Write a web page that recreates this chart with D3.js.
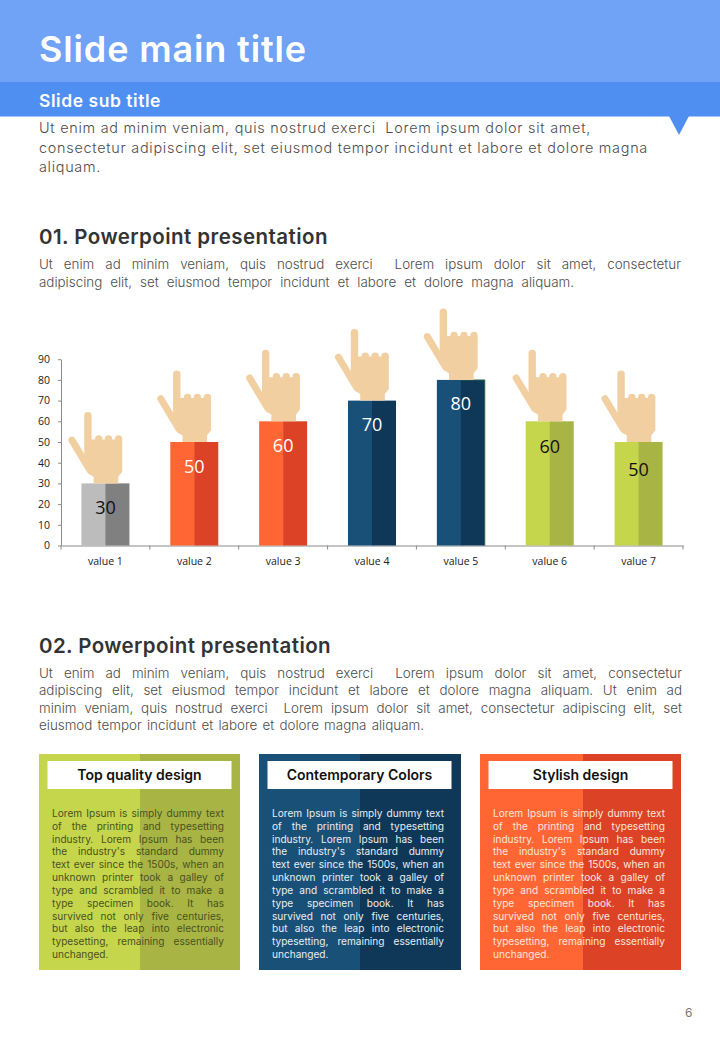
<!DOCTYPE html>
<html><head><meta charset="utf-8">
<script src="https://cdn.jsdelivr.net/npm/d3@7/dist/d3.min.js"></script>
<style>html,body{margin:0;padding:0;background:#fff}svg{display:block}</style></head>
<body><svg id="c" width="720" height="1040"></svg>
<script>
const categories=["value 1","value 2","value 3","value 4","value 5","value 6","value 7"];
const values=[30,50,60,70,80,60,50];
const leftColors=["#bcbcbc","#ff6633","#ff6633","#185078","#185078","#c5d64c","#c5d64c"];
const rightColors=["#808080","#dc4226","#dc4226","#0f3858","#0f3858","#a8b545","#a8b545"];
const labelColors=["#111","#fff","#fff","#fff","#fff","#111","#111"];
const labelDrop=[31,30.5,31,30.5,30.5,32,33.5];
const yTicks=[0,10,20,30,40,50,60,70,80,90];
const introLines=["Ut enim ad minim veniam, quis nostrud exerci  Lorem ipsum dolor sit amet,","consectetur adipiscing elit, set eiusmod tempor incidunt et labore et dolore magna","aliquam."];
const para1Lines=["Ut enim ad minim veniam, quis nostrud exerci  Lorem ipsum dolor sit amet, consectetur","adipiscing elit, set eiusmod tempor incidunt et labore et dolore magna aliquam."];
const para2Lines=["Ut enim ad minim veniam, quis nostrud exerci  Lorem ipsum dolor sit amet, consectetur","adipiscing elit, set eiusmod tempor incidunt et labore et dolore magna aliquam. Ut enim ad","minim veniam, quis nostrud exerci  Lorem ipsum dolor sit amet, consectetur adipiscing elit, set","eiusmod tempor incidunt et labore et dolore magna aliquam."];
const cardTitles=["Top quality design","Contemporary Colors","Stylish design"];
const cardLeft=["#c5d64c","#185078","#ff6633"];
const cardRight=["#a8b545","#0f3858","#dc4226"];
const cardText=["#4a5220","#e8eef2","#fbe6dc"];
const cardLines=["Lorem Ipsum is simply dummy text","of the printing and typesetting","industry. Lorem Ipsum has been","the industry's standard dummy","text ever since the 1500s, when an","unknown printer took a galley of","type and scrambled it to make a","type specimen book. It has","survived not only five centuries,","but also the leap into electronic","typesetting, remaining essentially","unchanged."];

const FONT="Inter, 'Open Sans', sans-serif", CHART_FONT="'Open Sans', sans-serif";
const svg=d3.select("#c");

function line(g,s,x,y,width,size,color,weight,tight){
  const t=g.append("text").attr("x",x).attr("y",y).style("white-space","pre")
    .attr("font-family",FONT).attr("font-size",size).attr("font-weight",weight||300).attr("fill",color).text(s);
  if(width){
    const n=(s.match(/ /g)||[]).length, w=t.node().getComputedTextLength(), extra=width-w;
    if(tight||extra<0||!n) t.attr("letter-spacing",(extra/s.length).toFixed(3));
    else t.attr("word-spacing",(extra/n).toFixed(3));
  }
  return t;
}
// header
svg.append("rect").attr("width",720).attr("height",82).attr("fill","#70a2f5");
svg.append("rect").attr("y",82).attr("width",720).attr("height",34.5).attr("fill","#4f8ff1");
svg.append("path").attr("d","M669 116L689 116L679 135Z").attr("fill","#4f8ff1");
line(svg,"Slide main title",39,62,268,36,"#fff",600,true);
line(svg,"Slide sub title",39,107,122,17.5,"#fff",600,true);
const introW=[552,609,62], introY=[133,153,172];
introLines.forEach((s,i)=>line(svg,s,39,introY[i],introW[i],14.4,"#4d4d4d",300,true));
line(svg,"01. Powerpoint presentation",39,244,289,20.5,"#333",600,true);
[[269,642],[287,535]].forEach((p,i)=>line(svg,para1Lines[i],39,p[0],p[1],13.4,"#4d4d4d"));
line(svg,"02. Powerpoint presentation",39,653,292,20.5,"#333",600,true);
[[678,643],[695,643],[713,643],[730,385]].forEach((p,i)=>line(svg,para2Lines[i],39,p[0],p[1],13.4,"#4d4d4d"));

// chart
const x=d3.scaleBand().domain(categories).range([61,683]).paddingInner(0.46).paddingOuter(0.23);
const y=d3.scaleLinear().domain([0,90]).range([545.5,359.2]);
const gy=svg.append("g").attr("transform","translate(61,0)").call(d3.axisLeft(y).tickValues(yTicks).tickSize(3).tickSizeOuter(0).tickPadding(8));
const gx=svg.append("g").attr("transform","translate(0,545.5)").call(d3.axisBottom(x).tickSize(0).tickPadding(12));
[gy,gx].forEach(g=>{g.selectAll("path,line").attr("stroke","#8a8a8a");g.selectAll("text").attr("font-family",CHART_FONT).attr("font-size",10.5).attr("fill","#222");});
gx.selectAll(".sep").data(d3.range(8)).join("line").attr("class","sep")
  .attr("x1",i=>61+i*(622/7)).attr("x2",i=>61+i*(622/7)).attr("y1",0).attr("y2",4).attr("stroke","#8a8a8a");

const bars=svg.append("g").selectAll("g").data(categories).join("g");
const cx=d=>x(d)+x.bandwidth()/2;
bars.append("rect").attr("x",d=>x(d)).attr("width",x.bandwidth()/2+.5)
  .attr("y",(d,i)=>y(values[i])).attr("height",(d,i)=>y(0)-y(values[i])).attr("fill",(d,i)=>leftColors[i]);
bars.append("rect").attr("x",d=>cx(d)).attr("width",x.bandwidth()/2)
  .attr("y",(d,i)=>y(values[i])).attr("height",(d,i)=>y(0)-y(values[i])).attr("fill",(d,i)=>rightColors[i]);
bars.filter((d,i)=>values[i]===80).append("path")
  .attr("d",(d,i)=>{const X=x(d)+x.bandwidth();return `M${cx(d)} ${y(80)}H${X}V${y(0)}`;})
  .attr("fill","none").attr("stroke","#2f7a4a").attr("stroke-width",.8);
bars.append("text").attr("x",d=>cx(d)).attr("y",(d,i)=>y(values[i])+labelDrop[i]).attr("text-anchor","middle")
  .attr("font-family",CHART_FONT).attr("font-size",18).attr("fill",(d,i)=>labelColors[i]).text((d,i)=>values[i]);

// pointing hand glyph, placed on top of each bar by the scales
const handPalm="M-20 -27L-20 -44L17.3 -44L17.3 -11.7L13.3 -6.7L13.3 0L-11.3 0L-11.3 -6.7L-16 -9.3L-22 -20Z";
const hands=svg.append("g").selectAll("g").data(categories).join("g")
  .attr("transform",(d,i)=>`translate(${cx(d)-0.5},${y(values[i])})`);
const skin="#f1cfa1";
hands.append("path").attr("d",handPalm).attr("fill",skin);
hands.append("path").attr("d","M-17 -67.8L-17 -26").attr("stroke",skin).attr("stroke-width",7.4).attr("stroke-linecap","round").attr("fill","none");
hands.append("path").attr("d","M-33 -43.3L-15 -13.3").attr("stroke",skin).attr("stroke-width",7).attr("stroke-linecap","round").attr("fill","none");
[-6.2,3.6,13.6].forEach(f=>hands.append("circle").attr("cx",f).attr("cy",-44.5).attr("r",3.7).attr("fill",skin));

// cards
const cardX=[39,259,480], cardW=[201,202,201], cardSplit=[140,360,583];
cardTitles.forEach((title,k)=>{
  const g=svg.append("g");
  g.append("rect").attr("x",cardX[k]).attr("y",754).attr("width",cardW[k]).attr("height",216).attr("fill",cardLeft[k]);
  g.append("rect").attr("x",cardSplit[k]).attr("y",754).attr("width",cardX[k]+cardW[k]-cardSplit[k]).attr("height",216).attr("fill",cardRight[k]);
  g.append("rect").attr("x",cardX[k]+8.5).attr("y",761).attr("width",184).attr("height",28).attr("fill","#fff");
  g.append("text").attr("x",cardX[k]+8.5+92).attr("y",780).attr("text-anchor","middle").attr("font-family",FONT)
    .attr("font-size",14).attr("font-weight",600).attr("fill","#111").text(title);
  cardLines.forEach((s,i)=>line(g,s,cardX[k]+13,817+i*12.82,i<cardLines.length-1?172:null,10.1,cardText[k],400));
});
line(svg,"6",685,1017,null,12,"#777",400);
</script></body></html>
